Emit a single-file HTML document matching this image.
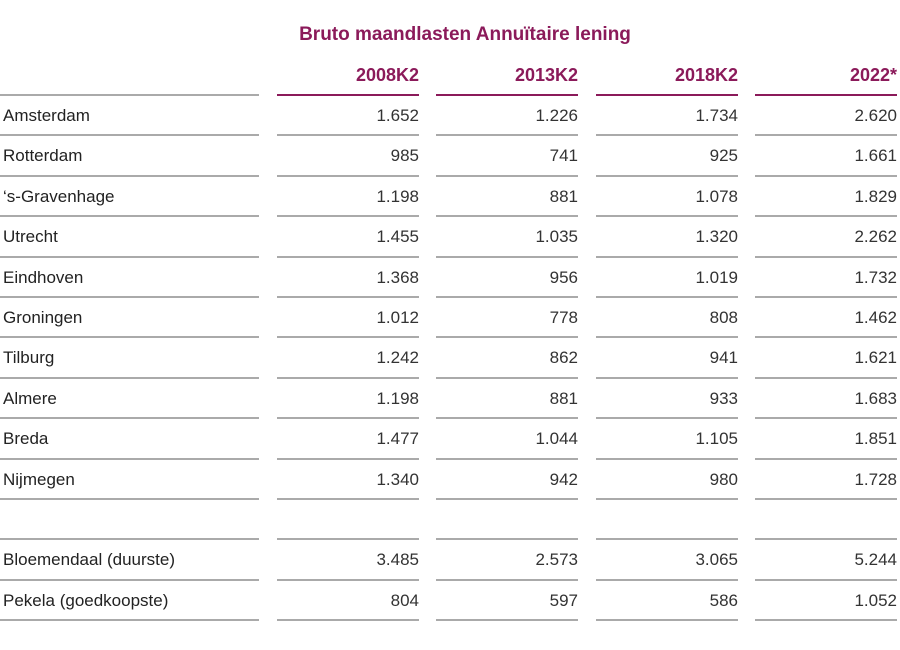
<!DOCTYPE html>
<html><head><style>
body{margin:0;width:900px;height:650px;background:#fff;font-family:"Liberation Sans",Arial,sans-serif;position:relative;overflow:hidden}
.t{position:absolute;top:24px;left:0;width:930px;text-align:center;font-weight:bold;font-size:19px;color:#8b1a5a}
.h{position:absolute;font-weight:bold;font-size:18px;color:#8b1a5a;text-align:right}
.l{position:absolute;height:2px;background:#aaa}
.p{position:absolute;height:2px;background:#8b1a5a}
.c{position:absolute;font-size:17px;color:#222}
.n{position:absolute;font-size:17px;color:#333;text-align:right}
</style></head><body>
<div class="t">Bruto maandlasten Annuïtaire lening</div>
<div id="g"></div>
<script>
(function(){
var cols=[[277,419],[436,578],[596,738],[755,897]];
var hd=["2008K2","2013K2","2018K2","2022*"];
var rows=[["Amsterdam","1.652","1.226","1.734","2.620"],["Rotterdam","985","741","925","1.661"],["‘s-Gravenhage","1.198","881","1.078","1.829"],["Utrecht","1.455","1.035","1.320","2.262"],["Eindhoven","1.368","956","1.019","1.732"],["Groningen","1.012","778","808","1.462"],["Tilburg","1.242","862","941","1.621"],["Almere","1.198","881","933","1.683"],["Breda","1.477","1.044","1.105","1.851"],["Nijmegen","1.340","942","980","1.728"],null,["Bloemendaal (duurste)","3.485","2.573","3.065","5.244"],["Pekela (goedkoopste)","804","597","586","1.052"]];
var h="";
h+='<div class="l" style="left:0;width:259px;top:94px"></div>';
for(var i=0;i<4;i++){h+='<div class="h" style="left:'+cols[i][0]+'px;width:'+(cols[i][1]-cols[i][0])+'px;top:65px">'+hd[i]+'</div>';
h+='<div class="p" style="left:'+cols[i][0]+'px;width:'+(cols[i][1]-cols[i][0])+'px;top:94px"></div>';}
for(var r=0;r<rows.length;r++){var yy=95+40.4*r;var ly=Math.round(yy+40.4-1);
h+='<div class="l" style="left:0;width:259px;top:'+ly+'px"></div>';
for(var i=0;i<4;i++)h+='<div class="l" style="left:'+cols[i][0]+'px;width:'+(cols[i][1]-cols[i][0])+'px;top:'+ly+'px"></div>';
if(!rows[r])continue;var ty=Math.round(yy+11);
h+='<div class="c" style="left:3px;top:'+ty+'px">'+rows[r][0]+'</div>';
for(var i=0;i<4;i++)h+='<div class="n" style="left:'+cols[i][0]+'px;width:'+(cols[i][1]-cols[i][0])+'px;top:'+ty+'px">'+rows[r][i+1]+'</div>';}
document.getElementById("g").innerHTML=h;
})();
</script>
</body></html>
